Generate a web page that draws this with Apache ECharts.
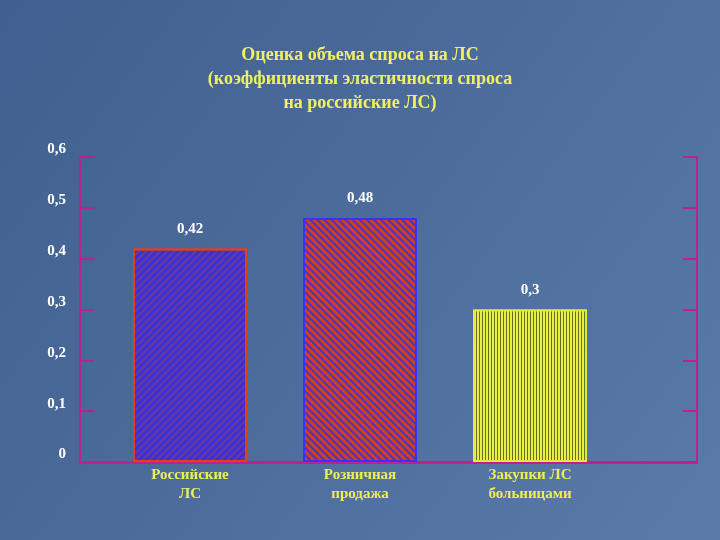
<!DOCTYPE html>
<html><head><meta charset="utf-8">
<script src="https://cdn.jsdelivr.net/npm/echarts@6/dist/echarts.min.js"></script>
<style>html,body{margin:0;padding:0;}#c{width:720px;height:540px;}</style>
</head><body><div id="c"></div>
<script>
const categories = ['Российские\nЛС', 'Розничная\nпродажа', 'Закупки ЛС\nбольницами'];
const values = [0.42, 0.48, 0.3];
const yTickLabels = ['0', '0,1', '0,2', '0,3', '0,4', '0,5', '0,6'];
const titleText = 'Оценка объема спроса на ЛС\n(коэффициенты эластичности спроса\nна российские ЛС)';

const axisColor = '#c0208c';
const serif = '"Liberation Serif","DejaVu Serif",serif';
const barStyles = [
  {color:'#3a2fe0', borderColor:'#e04020', decal:{symbol:'rect', color:'rgba(110,60,130,0.9)', dashArrayX:[1,0], dashArrayY:[2,3], rotation:-Math.PI/4}},
  {color:'#d04020', borderColor:'#3a30ff', decal:{symbol:'rect', color:'rgba(60,50,210,0.9)', dashArrayX:[1,0], dashArrayY:[2,3], rotation:Math.PI/4}},
  {color:'#e8f040', borderColor:'#e0ea40', decal:{symbol:'rect', color:'rgba(60,70,30,0.75)', dashArrayX:[1,0], dashArrayY:[1,2], rotation:Math.PI/2}}
];
const chart = echarts.init(document.getElementById('c'));
chart.setOption({
  backgroundColor: {type:'linear', x:0, y:0, x2:1, y2:1, colorStops:[{offset:0,color:'#3f6090'},{offset:1,color:'#5a7aa8'}]},
  title: {text:titleText, left:'center', top:38, textStyle:{color:'#f2f060', fontFamily:serif, fontWeight:'bold', fontSize:18, lineHeight:24}},
  grid: [
    {left:80, right:23, top:157, bottom:78},
    {left:105, width:510, top:157, bottom:78}
  ],
  xAxis: [
    {gridIndex:0, type:'category', data:[''], axisLine:{lineStyle:{color:axisColor, width:3}}, axisTick:{show:false}, axisLabel:{show:false}},
    {gridIndex:1, type:'category', data:categories, axisLine:{show:false}, axisTick:{show:false},
     axisLabel:{color:'#eef050', fontFamily:serif, fontWeight:'bold', fontSize:15, lineHeight:19, margin:4}}
  ],
  yAxis: [
    {gridIndex:0, type:'value', min:0, max:0.6, interval:0.1,
     axisLine:{show:true, lineStyle:{color:axisColor, width:2}},
     axisTick:{show:true, inside:true, length:14, lineStyle:{color:axisColor, width:2}},
     splitLine:{show:false},
     axisLabel:{color:'#ffffff', fontFamily:serif, fontWeight:'bold', fontSize:15, margin:14, verticalAlign:'bottom',
       formatter:(v)=>yTickLabels[Math.round(v*10)]}},
    {gridIndex:0, type:'value', position:'right', min:0, max:0.6, interval:0.1,
     axisLine:{show:true, lineStyle:{color:axisColor, width:2}},
     axisTick:{show:true, inside:true, length:14, lineStyle:{color:axisColor, width:2}},
     splitLine:{show:false}, axisLabel:{show:false}},
    {gridIndex:1, type:'value', min:0, max:0.6, show:false}
  ],
  series: [{
    type:'bar', xAxisIndex:1, yAxisIndex:2, barWidth:114,
    data: values.map((v,i)=>({value:v, itemStyle:{color:barStyles[i].color, borderColor:barStyles[i].borderColor, borderWidth:2, decal:barStyles[i].decal}})),
    label:{show:true, position:'top', distance:12, color:'#ffffff', fontFamily:serif, fontWeight:'bold', fontSize:15,
      formatter:(p)=>String(p.value).replace('.',',')}
  }],
  aria:{enabled:false}
});
</script></body></html>
